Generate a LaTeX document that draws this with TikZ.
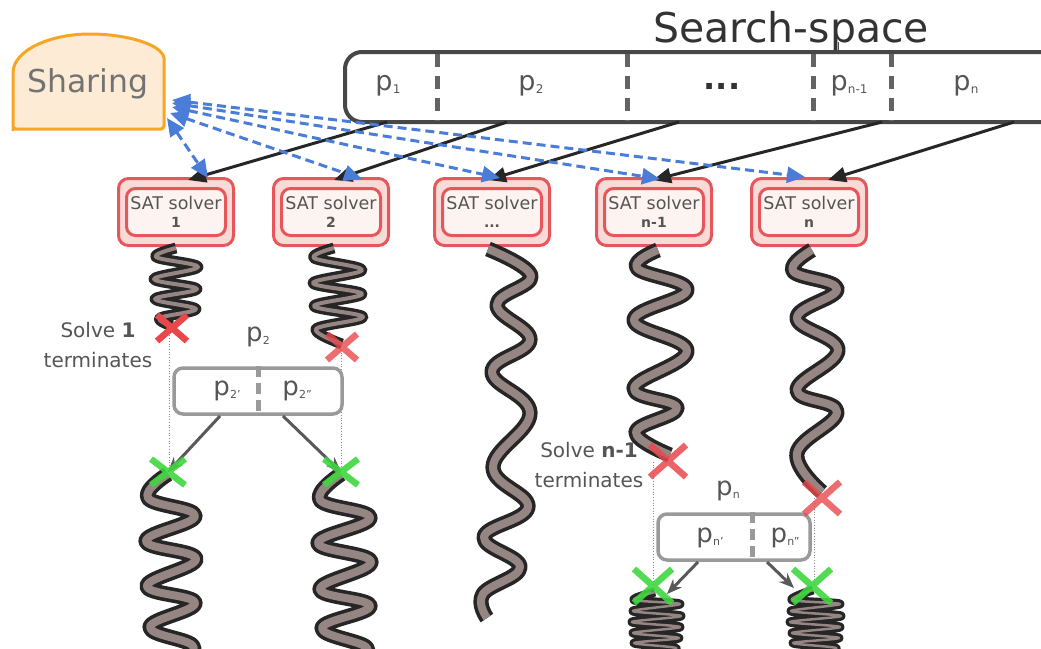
\documentclass[tikz,border=0pt]{standalone}
\usepackage{fontspec}
\setmainfont{DejaVu Sans}
\usetikzlibrary{arrows.meta}
\definecolor{txt}{HTML}{555555}
\definecolor{sharefill}{HTML}{FDEBD6}
\definecolor{sharedraw}{HTML}{F5A623}
\definecolor{solred}{HTML}{E5575C}
\definecolor{solout}{HTML}{F8DAD6}
\definecolor{solin}{HTML}{FDF3F1}
\definecolor{wormfill}{HTML}{958583}
\definecolor{wormline}{HTML}{262626}
\definecolor{barline}{HTML}{474747}
\definecolor{blu}{HTML}{4A7DD8}
\definecolor{xred}{HTML}{E8474C}
\definecolor{xgreen}{HTML}{3FD63F}
\definecolor{splitgray}{HTML}{9A9A9A}
\newcommand\psub[2][12]{p\kern0.3pt\raisebox{-0.12em}{\fontsize{#1}{#1}\selectfont #2}}
\newcommand\threedots{...}
\begin{document}
\begin{tikzpicture}[x=1pt,y=-1pt,
  solverout/.style={draw=solred, fill=solout, line width=3pt, rounded corners=10pt,
    minimum width=115pt, minimum height=67pt, inner sep=0pt},
  solverin/.style={draw=solred, fill=solin, line width=3pt, rounded corners=9pt,
    minimum width=99pt, minimum height=47pt, align=center, text=txt,
    font=\fontsize{17.5}{19}\selectfont, inner sep=0pt},
  barlab/.style={text=txt, font=\fontsize{27}{27}\selectfont, inner sep=0pt},
  splitlab/.style={text=txt, font=\fontsize{26}{26}\selectfont, inner sep=0pt},
  termlab/.style={text=txt, font=\fontsize{20}{30}\selectfont, align=center, inner sep=0pt},
  bardiv/.style={draw=barline!85, line width=5pt, dash pattern=on 13pt off 9pt},
  splitdiv/.style={draw=splitgray, line width=5pt, dash pattern=on 11pt off 6pt},
  splitbox/.style={draw=splitgray, line width=3.5pt, rounded corners=9pt, fill=white,
    minimum width=168pt, minimum height=46pt},
  feed/.style={draw=black!85, line width=3pt, -{Triangle[length=18pt,width=15pt]}},
  share/.style={draw=blu, line width=3pt, dash pattern=on 9pt off 5pt,
    {Triangle[length=18pt,width=16pt]}-{Triangle[length=18pt,width=16pt]}},
  splitarrow/.style={draw=black!65, line width=3pt, -{Stealth[length=15pt,width=12pt]}},
  worm/.style={draw=wormline, double=wormfill, line width=3.6pt, double distance=8pt,
    line join=round},
  thinworm/.style={draw=wormline, double=wormfill, line width=3.4pt, double distance=4pt,
    line join=round},
  spring/.style={draw=wormline, double=wormfill, line width=3.2pt, double distance=2.5pt,
    line join=round},
  xr/.style={draw=xred, line width=6.5pt},
  xg/.style={draw=xgreen, line width=6.5pt, opacity=0.9},
  guide/.style={draw=black!45, line width=0.7pt, dotted}
]
\useasboundingbox (0,0) rectangle (1041,648);
\clip (0,0) rectangle (1041,648);

% ---------- Sharing ----------
\draw[draw=sharedraw, fill=sharefill, line width=3pt]
  (13,128) -- (13,72) .. controls (14,50) and (50,34) .. (90,34)
  .. controls (125,34) and (162,44) .. (164,58) -- (164,125)
  [rounded corners=3pt] -- (164,129) -- (13,129) -- cycle;
\node[text=black!55, font=\fontsize{31.5}{31.5}\selectfont, inner sep=0pt] (sharing) at (88,84) {Sharing};
\coordinate (sh1) at (167,118);
\coordinate (sh2) at (170,113);
\coordinate (sh3) at (172,107);
\coordinate (sh4) at (172,103);
\coordinate (sh5) at (172,100);

% ---------- Search space ----------
\node[text=black!80, font=\fontsize{41}{41}\selectfont, inner sep=0pt, anchor=base] (sstitle) at (791,42) {Search-space};
\coordinate (tick) at (838,52);
\draw[black!70, line width=1pt] (tick) -- (sstitle.base -| tick);
\draw[draw=barline, line width=4pt, rounded corners=17pt] (1060,52) -- (345,52) -- (345,122) -- (1060,122);
\foreach \x/\n in {437/d1,627/d2,813/d3,891/d4}{
  \coordinate (\n t) at (\x,54);
  \coordinate (\n b) at (\x,121);
  \draw[bardiv] (\n t) -- (\n b);
}
\node[barlab] (lp1) at (388,86) {\psub{1}};
\node[barlab] (lp2) at (531,86) {\psub{2}};
\node[text=black!80, font=\bfseries\fontsize{32}{32}\selectfont, inner sep=0pt] (ldots) at (722,86) {\threedots};
\node[barlab] (lpn1) at (849,86) {\psub{n-1}};
\node[barlab] (lpn) at (966,86) {\psub{n}};
\coordinate (b1) at (387,122);
\coordinate (b2) at (507,122);
\coordinate (b3) at (679,122);
\coordinate (b4) at (882,122);
\coordinate (b5) at (1014,122);

% ---------- Solvers ----------
\foreach \i/\x/\lab in {1/176/1, 2/331/2, 3/492/\threedots, 4/654/n-1, 5/809/n}{
  \node[solverout] (so\i) at (\x,212) {};
  \node[solverin] (s\i) at (\x,212) {SAT solver\\[-1pt]{\fontsize{14}{14}\selectfont\bfseries \lab}};
}

% feed arrows
\coordinate (t1) at (188,180);
\coordinate (t2) at (334,180);
\coordinate (t3) at (488,180);
\coordinate (t4) at (653,180);
\coordinate (t5) at (828,180);
\foreach \i in {1,2,3,4,5}{ \draw[feed] (b\i) -- (t\i); }

% sharing arrows
\coordinate (u1) at (208,178);
\coordinate (u2) at (362,179);
\coordinate (u3) at (500,178);
\coordinate (u4) at (660,179);
\coordinate (u5) at (805,177);
\foreach \i in {1,2,3,4,5}{ \draw[share] (sh\i) -- (u\i); }

% ---------- Worms ----------
\draw[thinworm] plot[smooth, tension=0.6] coordinates {(176,248) (156,257) (198,267) (154,279) (197,289) (155,299) (196,309) (160,318) (172,326)};
\draw[thinworm] plot[smooth, tension=0.6] coordinates {(334,248) (314,258) (362,270) (313,283) (362,294) (314,306) (363,317) (316,329) (342,344)};
\draw[worm] plot[smooth, tension=0.7] coordinates {(488,249) (531,276) (497,305) (530,340) (492,372) (530,413) (493,467) (528,507) (484,537) (520,567) (483,594) (487,618)};
\draw[worm] plot[smooth, tension=0.7] coordinates {(658,250) (637,268) (687,290) (634,320) (687,351) (634,388) (677,408) (636,432) (670,455)};
\draw[worm] plot[smooth, tension=0.7] coordinates {(812,250) (793,271) (837,289) (797,318) (838,350) (797,390) (837,412) (797,453) (822,492)};
\draw[worm] plot[smooth, tension=0.7] coordinates {(168,474) (148,498) (195,516) (146,541) (196,559) (147,586) (195,603) (150,627) (192,645) (185,660)};
\draw[worm] plot[smooth, tension=0.7] coordinates {(341,474) (320,500) (370,518) (318,543) (371,562) (320,589) (370,606) (322,628) (366,647) (358,660)};
\draw[spring] plot[smooth, tension=0.5] coordinates {(655,592) (634,600) (680,604) (633,611) (681,616) (632,622) (680,627) (633,633) (679,638) (634,643) (676,648) (660,655)};
\draw[spring] plot[smooth, tension=0.5] coordinates {(813,590) (792,600) (840,604) (791,611) (841,616) (790,622) (840,627) (792,633) (839,638) (793,643) (836,648) (820,655)};

% ---------- split of p2 ----------
\coordinate (r1) at (172,328);
\coordinate (r2) at (342,347);
\coordinate (g1) at (168,472);
\coordinate (g2) at (341,472);
\draw[guide] (169,330) -- (169,470);
\draw[guide] (341,350) -- (341,470);
\node[splitbox] (sp1) at (258,391) {};
\draw[splitdiv] (sp1.north) -- (sp1.south);
\node[splitlab] (lp2a) at (227,391) {\psub[11]{2'}};
\node[splitlab] (lp2b) at (297,391) {\psub[11]{2''}};
\node[splitlab] (lp2top) at (258,337) {\psub[11]{2}};
\coordinate (a1) at (220,416);
\coordinate (a2) at (283,416);
\draw[splitarrow] (a1) -- (g1);
\draw[splitarrow] (a2) -- (g2);
\node[termlab] (term1) at (98,345) {Solve \textbf{1}\\terminates};

% ---------- split of pn ----------
\coordinate (r3) at (668,461);
\coordinate (r4) at (822,498);
\coordinate (g3) at (653,586);
\coordinate (g4) at (812,586);
\draw[guide] (653,462) -- (653,586);
\draw[guide] (814,498) -- (814,586);
\node[splitbox, minimum width=152pt] (sp2) at (734,537) {};
\draw[splitdiv] (sp2.north -| 752,0) -- (sp2.south -| 752,0);
\node[splitlab] (lpna) at (710,538) {\psub[11]{n'}};
\node[splitlab] (lpnb) at (785,538) {\psub[11]{n''}};
\node[splitlab] (lpntop) at (728,491) {\psub[11]{n}};
\coordinate (a3) at (698,562);
\coordinate (a4) at (767,562);
\coordinate (e3) at (667,594);
\coordinate (e4) at (794,588);
\draw[splitarrow] (a3) -- (e3);
\draw[splitarrow] (a4) -- (e4);
\node[termlab] (term2) at (589,465) {Solve \textbf{n-1}\\terminates};

% ---------- crosses ----------
\draw[xr] (r1) +(-15,-13) -- +(15,13) (r1) +(-15,13) -- +(15,-13);
\draw[xr, opacity=0.8] (r2) +(-15,-13) -- +(15,13) (r2) +(-15,13) -- +(15,-13);
\draw[xr, opacity=0.85] (r3) +(-18,-16) -- +(18,16) (r3) +(-18,16) -- +(18,-16);
\draw[xr, opacity=0.8] (r4) +(-18,-16) -- +(18,16) (r4) +(-18,16) -- +(18,-16);
\draw[xg] (g1) +(-17,-13) -- +(17,13) (g1) +(-17,13) -- +(17,-13);
\draw[xg] (g2) +(-17,-13) -- +(17,13) (g2) +(-17,13) -- +(17,-13);
\draw[xg] (g3) +(-19,-17) -- +(19,17) (g3) +(-19,17) -- +(19,-17);
\draw[xg] (g4) +(-19,-17) -- +(19,17) (g4) +(-19,17) -- +(19,-17);
\end{tikzpicture}
\end{document}
